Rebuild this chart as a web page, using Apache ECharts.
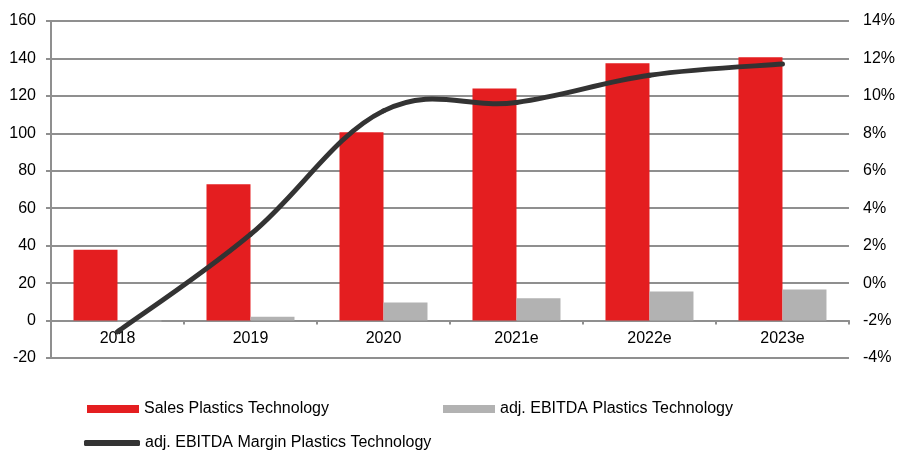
<!DOCTYPE html>
<html>
<head>
<meta charset="utf-8">
<script src="https://cdn.jsdelivr.net/npm/echarts@6/dist/echarts.min.js"></script>
<style>
  html, body { margin: 0; padding: 0; background: #fff; }
  #chart { width: 898px; height: 450px; }
</style>
</head>
<body>
<div id="chart"></div>
<script>
// Plastics Technology segment: sales, adj. EBITDA (EUR m) and adj. EBITDA margin (%)
const years = ['2018', '2019', '2020', '2021e', '2022e', '2023e'];
const sales = [37.8, 72.8, 100.6, 124.0, 137.5, 140.7];
const adjEbitda = [-0.5, 2.0, 9.6, 11.9, 15.5, 16.6];
const adjEbitdaMargin = [-2.6, 2.6, 9.2, 9.65, 11.1, 11.7];

const seriesNames = [
  'Sales Plastics Technology',
  'adj. EBITDA Plastics Technology',
  'adj. EBITDA Margin Plastics Technology'
];

const FONT = "'Liberation Sans', Arial, sans-serif";
const GRID_GREY = '#8f8f8f';
const RED = '#e41e20';
const GREY = '#b2b2b2';
const DARK = '#333333';
const TENSION = 0.19; // Catmull-Rom style control-point factor

const chart = echarts.init(document.getElementById('chart'), null, { renderer: 'canvas' });

const legendText = { fontFamily: FONT, fontSize: 16, color: '#000' };

// Each data item draws the smooth segment from its point to the next one.
function renderMarginSegment(params, api) {
  const i = params.dataIndex;
  const n = adjEbitdaMargin.length;
  if (i >= n - 1) return null;
  const clampIdx = (j) => Math.max(0, Math.min(n - 1, j));
  const pt = (j) => api.coord([clampIdx(j), adjEbitdaMargin[clampIdx(j)]]);
  const p0 = pt(i - 1), p1 = pt(i), p2 = pt(i + 1), p3 = pt(i + 2);
  return {
    type: 'bezierCurve',
    shape: {
      x1: p1[0], y1: p1[1],
      x2: p2[0], y2: p2[1],
      cpx1: p1[0] + (p2[0] - p0[0]) * TENSION,
      cpy1: p1[1] + (p2[1] - p0[1]) * TENSION,
      cpx2: p2[0] - (p3[0] - p1[0]) * TENSION,
      cpy2: p2[1] - (p3[1] - p1[1]) * TENSION
    },
    style: { stroke: DARK, lineWidth: 5, fill: null, lineCap: 'round' }
  };
}

chart.setOption({
  animation: false,
  backgroundColor: '#fff',
  textStyle: { fontFamily: FONT },
  grid: { left: 51, right: 47, top: 21, bottom: 92, containLabel: false },
  legend: [
    {
      data: [seriesNames[0]], left: 87, top: 401, padding: 0,
      icon: 'rect', itemWidth: 52, itemHeight: 8, textStyle: legendText
    },
    {
      data: [seriesNames[1]], left: 443, top: 401, padding: 0,
      icon: 'rect', itemWidth: 52, itemHeight: 8, textStyle: legendText
    },
    {
      data: [seriesNames[2]], left: 84, top: 435, padding: 0,
      icon: 'roundRect', itemWidth: 56, itemHeight: 6, textStyle: legendText
    }
  ],
  xAxis: {
    type: 'category',
    data: years,
    axisLine: { onZero: true, onZeroAxisIndex: 0, lineStyle: { color: GRID_GREY, width: 2 } },
    axisTick: { show: true, length: 4, lineStyle: { color: GRID_GREY, width: 2 } },
    axisLabel: { color: '#000', fontSize: 16, fontFamily: FONT, margin: -27 },
    splitLine: { show: false }
  },
  yAxis: [
    {
      type: 'value',
      min: -20, max: 160, interval: 20,
      axisLine: { show: true, lineStyle: { color: GRID_GREY, width: 2 } },
      axisTick: { show: true, length: 5, lineStyle: { color: GRID_GREY, width: 2 } },
      axisLabel: { color: '#000', fontSize: 16, fontFamily: FONT, margin: 15 },
      splitLine: { show: true, lineStyle: { color: GRID_GREY, width: 2 } }
    },
    {
      type: 'value',
      min: -4, max: 14, interval: 2,
      position: 'right',
      axisLine: { show: false },
      axisTick: { show: false },
      axisLabel: { color: '#000', fontSize: 16, fontFamily: FONT, margin: 14, formatter: '{value}%' },
      splitLine: { show: false }
    }
  ],
  series: [
    {
      name: seriesNames[0], type: 'bar', data: sales,
      barWidth: 44, barGap: '0%',
      itemStyle: { color: RED }
    },
    {
      name: seriesNames[1], type: 'bar', data: adjEbitda,
      barWidth: 44, barGap: '0%',
      itemStyle: { color: GREY }
    },
    {
      name: seriesNames[2], type: 'custom', yAxisIndex: 1,
      data: adjEbitdaMargin.map((v, i) => [i, v]),
      encode: { x: 0, y: 1 },
      renderItem: renderMarginSegment,
      itemStyle: { color: DARK },
      clip: false,
      z: 5
    }
  ]
});
</script>
</body>
</html>
